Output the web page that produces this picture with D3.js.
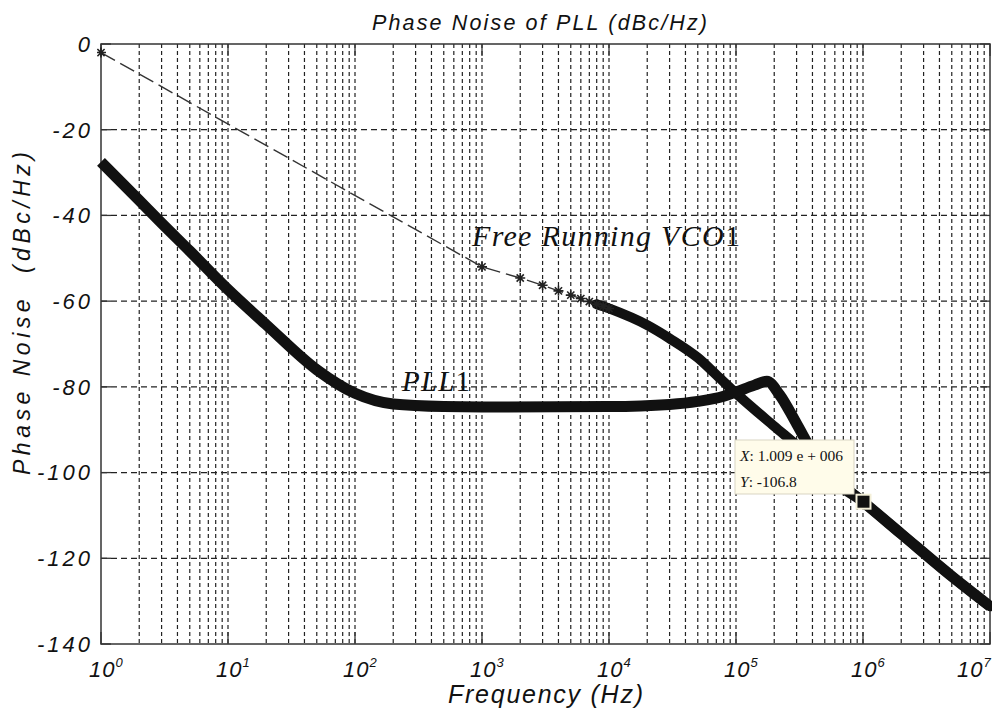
<!DOCTYPE html>
<html><head><meta charset="utf-8">
<script src="https://cdn.jsdelivr.net/npm/d3@7"></script>
<style>
html,body{margin:0;padding:0;background:#fff;}
svg{display:block;}
</style></head>
<body>
<svg id="chart" width="999" height="714"></svg>
<script>
// ---- data ----
const xTickExps = [0,1,2,3,4,5,6,7];
const yTicks = [0,-20,-40,-60,-80,-100,-120,-140];

// Free running VCO (dBc/Hz)
const vcoFreq = [1, 1000, 2000, 3000, 4000, 5000, 6000, 7000, 8000, 9000, 10000,
                 20000, 30000, 50000, 70000, 100000, 200000, 300000, 500000,
                 1000000, 2000000, 5000000, 10000000];
const vcoDb   = [-2, -52, -54.6, -56.3, -57.6, -58.6, -59.4, -60.1, -60.7, -61.2, -61.7,
                 -65.6, -68.7, -73.2, -77.2, -81.5, -89.2, -93.6, -99.4,
                 -106.8, -114.3, -124.2, -131.2];

// PLL output
const pllFreq = [1, 2, 3, 5, 10, 20, 50, 100, 200, 500, 1000, 10000, 30000, 50000,
                 80000, 100000, 140000, 175000, 220000, 300000, 400000, 500000,
                 1000000, 2000000, 5000000, 10000000];
const pllDb   = [-27.5, -36.5, -41.8, -48.3, -57.3, -65.5, -76, -81.5, -84, -84.6, -84.7, -84.6, -84.1, -83.4,
                 -82.2, -81.2, -79.6, -78.7, -81.8, -88.6, -95.2, -99.6,
                 -106.8, -114.3, -124.2, -131.2];

const tipX = 1.009e6, tipY = -106.8;
const tipXLabel = "1.009 e + 006", tipYLabel = "-106.8";

const titleText = "Phase Noise of PLL (dBc/Hz)";
const xLabelText = "Frequency (Hz)";
const yLabelText = "Phase Noise  (dBc/Hz)";

// ---- layout ----
const L = 101, R = 990, T = 44, B = 644;
const svg = d3.select("#chart");
const x = d3.scaleLog().domain([1, 1e7]).range([L, R]);
const y = d3.scaleLinear().domain([-140, 0]).range([B, T]);
const sans = "'Liberation Sans', Arial, sans-serif";
const serif = "'Liberation Serif', 'Times New Roman', serif";

// grid lines
const minorVals = [];
for (let e = 0; e < 7; e++) for (let m = 1; m <= 9; m++) minorVals.push(m * Math.pow(10, e));
const g = svg.append("g");
g.selectAll("line.vg").data(minorVals.filter(v => v > 1)).enter().append("line")
  .attr("x1", d => x(d)).attr("x2", d => x(d)).attr("y1", T).attr("y2", B)
  .attr("stroke", "#222").attr("stroke-width", 1.2).attr("stroke-dasharray", "4,3");
g.selectAll("line.hg").data(yTicks.filter(v => v > -140 && v < 0)).enter().append("line")
  .attr("x1", L).attr("x2", R).attr("y1", d => y(d)).attr("y2", d => y(d))
  .attr("stroke", "#222").attr("stroke-width", 1.2).attr("stroke-dasharray", "6,4");

// ticks (inward)
const majors = xTickExps.map(e => Math.pow(10, e));
const tk = svg.append("g").attr("stroke", "#333").attr("stroke-width", 1.3);
majors.forEach(v => {
  tk.append("line").attr("x1", x(v)).attr("x2", x(v)).attr("y1", B).attr("y2", B - 12);
  tk.append("line").attr("x1", x(v)).attr("x2", x(v)).attr("y1", T).attr("y2", T + 12);
});
yTicks.forEach(v => {
  tk.append("line").attr("x1", L).attr("x2", L + 10).attr("y1", y(v)).attr("y2", y(v));
  tk.append("line").attr("x1", R).attr("x2", R - 10).attr("y1", y(v)).attr("y2", y(v));
});

// box
svg.append("rect").attr("x", L).attr("y", T).attr("width", R - L).attr("height", B - T)
  .attr("fill", "none").attr("stroke", "#333").attr("stroke-width", 1.5);

// tick labels
const xl = svg.append("g").attr("font-family", sans).attr("font-style", "italic").attr("fill", "#111");
xTickExps.forEach(e => {
  const cx = Math.min(x(Math.pow(10, e)), 969);
  const t = xl.append("text").attr("x", cx - 12).attr("y", 677).attr("font-size", 22).attr("letter-spacing", 1);
  t.append("tspan").text("10");
  t.append("tspan").attr("dy", -10).attr("font-size", 13).text(String(e));
});
const yl = svg.append("g").attr("font-family", sans).attr("font-style", "italic").attr("fill", "#111");
yTicks.forEach(v => {
  yl.append("text").attr("x", 93).attr("y", y(v)).attr("dy", "0.36em")
    .attr("text-anchor", "end").attr("font-size", 22).attr("letter-spacing", 3)
    .text(String(v));
});

// titles
svg.append("text").attr("x", 372).attr("y", 30)
  .attr("font-family", sans).attr("font-style", "italic").attr("font-size", 21.5)
  .attr("textLength", 335).attr("lengthAdjust", "spacing").attr("fill", "#111").text(titleText);
svg.append("text").attr("x", 448).attr("y", 703)
  .attr("font-family", sans).attr("font-style", "italic").attr("font-size", 25)
  .attr("textLength", 195).attr("lengthAdjust", "spacing").attr("fill", "#111").text(xLabelText);
svg.append("text").attr("transform", "translate(30,475) rotate(-90)")
  .attr("font-family", sans).attr("font-style", "italic").attr("font-size", 23)
  .attr("textLength", 323).attr("lengthAdjust", "spacing")
  .attr("fill", "#111").attr("xml:space", "preserve").text(yLabelText);

// curves
svg.append("clipPath").attr("id", "pc").append("rect")
  .attr("x", L - 4).attr("y", T).attr("width", R - L + 6).attr("height", B - T);
const plot = svg.append("g").attr("clip-path", "url(#pc)");

const vcoPts = vcoFreq.map((f, i) => [f, vcoDb[i]]);
const pllPts = pllFreq.map((f, i) => [f, pllDb[i]]);
const lineLin = d3.line().x(d => x(d[0])).y(d => y(d[1]));
const lineSmooth = d3.line().x(d => x(d[0])).y(d => y(d[1])).curve(d3.curveMonotoneX);

// VCO thin dashed part
plot.append("path").attr("d", lineLin(vcoPts.filter(d => d[0] <= 10000)))
  .attr("fill", "none").attr("stroke", "#333").attr("stroke-width", 1.4).attr("stroke-dasharray", "16,6");
// VCO dense marker band
plot.append("path").attr("d", lineSmooth(vcoPts.filter(d => d[0] >= 8000)))
  .attr("fill", "none").attr("stroke", "#111").attr("stroke-width", 10).attr("stroke-linecap", "round");
// asterisk markers
const star = "M-5,0H5M0,-5V5M-3.6,-3.6L3.6,3.6M-3.6,3.6L3.6,-3.6";
plot.selectAll("path.mk").data(vcoPts.filter(d => d[0] <= 10000)).enter().append("path")
  .attr("d", star).attr("transform", d => `translate(${x(d[0])},${y(d[1])})`)
  .attr("stroke", "#222").attr("stroke-width", 1.6).attr("fill", "none");

// PLL thick
plot.append("path").attr("d", lineSmooth(pllPts))
  .attr("fill", "none").attr("stroke", "#111").attr("stroke-width", 11)
  .attr("stroke-linejoin", "round").attr("stroke-linecap", "butt");

// annotations
const ann1 = svg.append("text").attr("x", 472).attr("y", 246).attr("font-family", serif)
  .attr("font-size", 30).attr("fill", "#111").attr("textLength", 268).attr("lengthAdjust", "spacing");
ann1.append("tspan").attr("font-style", "italic").text("Free Running VCO");
ann1.append("tspan").text("1");
const ann2 = svg.append("text").attr("x", 402).attr("y", 391).attr("font-family", serif)
  .attr("font-size", 29).attr("fill", "#111").attr("textLength", 68).attr("lengthAdjust", "spacing");
ann2.append("tspan").attr("font-style", "italic").text("PLL");
ann2.append("tspan").text("1");

// data tip
const px = x(tipX), py = y(tipY);
svg.append("rect").attr("x", 735).attr("y", 440).attr("width", 119).attr("height", 54)
  .attr("fill", "#fffcea").attr("stroke", "#d9d5c3").attr("stroke-width", 1);
const t1 = svg.append("text").attr("x", 740).attr("y", 461).attr("font-family", serif).attr("font-size", 15.5).attr("fill", "#111");
t1.append("tspan").attr("font-style", "italic").text("X");
t1.append("tspan").text(": " + tipXLabel);
const t2 = svg.append("text").attr("x", 740).attr("y", 487).attr("font-family", serif).attr("font-size", 15.5).attr("fill", "#111");
t2.append("tspan").attr("font-style", "italic").text("Y");
t2.append("tspan").text(": " + tipYLabel);
svg.append("rect").attr("x", px - 7).attr("y", py - 7).attr("width", 14).attr("height", 14)
  .attr("fill", "#111").attr("stroke", "#f3efd8").attr("stroke-width", 2);
</script>
</body></html>
